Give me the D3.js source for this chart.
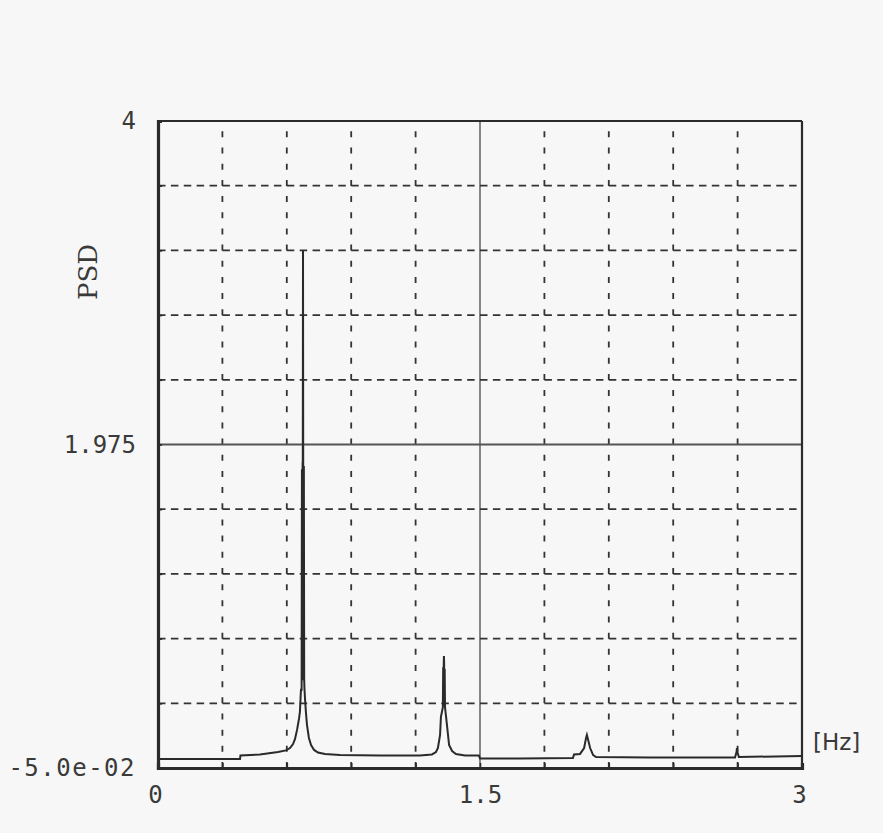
<!DOCTYPE html>
<html>
<head>
<meta charset="utf-8">
<script src="https://cdn.jsdelivr.net/npm/d3@7"></script>
<style>
  html, body { margin: 0; padding: 0; background: #f7f7f7; }
  svg { display: block; }
  .lbl { font-family: "DejaVu Sans Mono", monospace; font-size: 24px; fill: #3a3a3a; }
</style>
</head>
<body>
<svg id="chart" width="883" height="833"></svg>
<script>
// Power spectral density of the measured signal
const freq = [0, 0.382, 0.384, 0.475, 0.559, 0.596, 0.615, 0.629, 0.638, 0.648, 0.657, 0.661,
  0.666, 0.669, 0.6705, 0.672, 0.6735, 0.6745, 0.6755, 0.6765, 0.678, 0.6795, 0.681, 0.6825,
  0.685, 0.689, 0.694, 0.703, 0.713, 0.727, 0.745, 0.778, 0.848, 1.034, 1.220, 1.276, 1.295,
  1.304, 1.314, 1.318, 1.327, 1.3285, 1.330, 1.331, 1.332, 1.333, 1.334, 1.3355, 1.337, 1.342,
  1.346, 1.356, 1.370, 1.388, 1.430, 1.495, 1.500, 1.686, 1.933, 1.938, 1.966, 1.985, 1.994,
  1.998, 2.003, 2.013, 2.027, 2.041, 2.292, 2.688, 2.695, 2.697, 2.699, 2.706, 3.0];
const psd = [0.006, 0.006, 0.028, 0.035, 0.050, 0.060, 0.075, 0.100, 0.130, 0.190, 0.260, 0.300,
  0.440, 0.440, 1.820, 0.500, 1.860, 1.870, 3.190, 1.860, 0.500, 1.840, 0.500, 0.440,
  0.380, 0.300, 0.220, 0.138, 0.094, 0.063, 0.047, 0.038, 0.031, 0.028, 0.028, 0.035, 0.050,
  0.075, 0.157, 0.270, 0.330, 0.580, 0.340, 0.600, 0.651, 0.600, 0.340, 0.570, 0.330, 0.270,
  0.220, 0.094, 0.056, 0.038, 0.028, 0.028, 0.009, 0.009, 0.013, 0.035, 0.038, 0.075, 0.138,
  0.157, 0.130, 0.075, 0.031, 0.019, 0.016, 0.016, 0.050, 0.075, 0.050, 0.019, 0.025];

// Axis extents, grid divisions and labelled ticks
const xDomain = [0, 3];
const yDomain = [-0.05, 4];
const xGridValues = [0.3, 0.6, 0.9, 1.2, 1.5, 1.8, 2.1, 2.4, 2.7];
const yGridValues = [0.355, 0.76, 1.165, 1.57, 1.975, 2.38, 2.785, 3.19, 3.595];
const xSolidValue = 1.5;
const ySolidValue = 1.975;
const xTickValues = [0, 1.5, 3];
const xTickLabels = ["0", "1.5", "3"];
const yTickValues = [-0.05, 1.975, 4];
const yTickLabels = ["-5.0e-02", "1.975", "4"];
const yAxisTitle = "PSD";
const xUnit = "[Hz]";

const svg = d3.select("#chart");
const L = 158, R = 802, T = 121, B = 768;
const x = d3.scaleLinear().domain(xDomain).range([L, R]);
const y = d3.scaleLinear().domain(yDomain).range([B, T]);

const ink = "#2b2b2b";

// dashed grid: verticals drawn bottom-up, horizontals left-to-right
const grid = svg.append("g");
grid.selectAll("line.v").data(xGridValues).join("line")
  .attr("x1", d => x(d)).attr("x2", d => x(d))
  .attr("y1", B).attr("y2", T)
  .attr("stroke", d => d === xSolidValue ? "#555" : "#333")
  .attr("stroke-width", d => d === xSolidValue ? 1.4 : 1.8)
  .attr("stroke-dasharray", d => d === xSolidValue ? null : "6,10.17");
grid.selectAll("line.h").data(yGridValues).join("line")
  .attr("x1", L).attr("x2", R)
  .attr("y1", d => y(d)).attr("y2", d => y(d))
  .attr("stroke", d => d === ySolidValue ? "#555" : "#333")
  .attr("stroke-width", 1.8)
  .attr("stroke-dasharray", d => d === ySolidValue ? null : "7.5,5.38");

// frame: top and right borders
svg.append("line").attr("x1", L).attr("x2", R).attr("y1", T).attr("y2", T)
  .attr("stroke", ink).attr("stroke-width", 2.2);
svg.append("line").attr("x1", R).attr("x2", R).attr("y1", T).attr("y2", B)
  .attr("stroke", ink).attr("stroke-width", 2.2);

// inner tick marks on the left and bottom axes
const yTickAxis = d3.axisLeft(y).tickValues(yGridValues.concat([4])).tickSize(-4).tickFormat("");
const gy = svg.append("g").attr("transform", `translate(${L},0)`).call(yTickAxis);
const xTickAxis = d3.axisBottom(x).tickValues(xGridValues).tickSize(-5).tickFormat("");
const gx = svg.append("g").attr("transform", `translate(0,${B})`).call(xTickAxis);
[gy, gx].forEach(g => {
  g.select(".domain").attr("stroke", ink).attr("stroke-width", 3.2);
  g.selectAll(".tick line").attr("stroke", ink).attr("stroke-width", 1.6);
});

// labelled ticks
const yLabelAxis = d3.axisLeft(y).tickValues(yTickValues).tickSize(0).tickPadding(22)
  .tickFormat((d, i) => yTickLabels[i]);
const gyl = svg.append("g").attr("transform", `translate(${L},0)`).call(yLabelAxis);
gyl.select(".domain").remove();
gyl.selectAll("text").attr("class", "lbl").attr("font-family", null).attr("font-size", null);
gyl.selectAll(".tick").filter(d => d === -0.05).select("text").attr("letter-spacing", 1.5);

const xLabelAxis = d3.axisBottom(x).tickValues(xTickValues).tickSize(0).tickPadding(18)
  .tickFormat((d, i) => xTickLabels[i]);
const gxl = svg.append("g").attr("transform", `translate(0,${B})`).call(xLabelAxis);
gxl.select(".domain").remove();
gxl.selectAll("text").attr("class", "lbl").attr("font-family", null).attr("font-size", null);
gxl.selectAll(".tick").filter(d => d === 0).select("text").attr("dx", -3);
gxl.selectAll(".tick").filter(d => d === 3).select("text").attr("dx", -3);

// axis titles
svg.append("text")
  .attr("transform", `translate(97,272) rotate(-90)`)
  .attr("text-anchor", "middle")
  .attr("font-family", "DejaVu Serif, serif").attr("font-size", 26).attr("fill", "#3a3a3a")
  .text(yAxisTitle);
svg.append("text")
  .attr("x", 813).attr("y", 750)
  .attr("font-family", "DejaVu Sans, sans-serif").attr("font-size", 23).attr("fill", "#3a3a3a")
  .text(xUnit);

// spectrum trace
const pts = freq.map((f, i) => ({ f, v: psd[i] }));
const line = d3.line().x(d => x(d.f)).y(d => y(d.v));
svg.append("path").datum(pts)
  .attr("d", line)
  .attr("fill", "none")
  .attr("stroke", "#2a2a2a")
  .attr("stroke-width", 2)
  .attr("stroke-linejoin", "miter");
</script>
</body>
</html>
